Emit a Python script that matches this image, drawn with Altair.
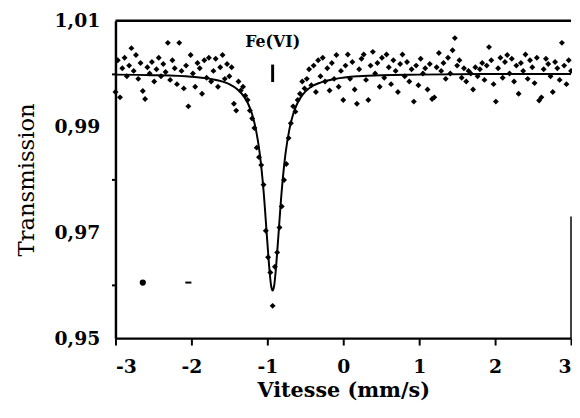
import altair as alt
import pandas as pd

# Mössbauer spectrum: velocity (mm/s) and transmission
velocity = [
    -3.00, -2.97, -2.94, -2.91, -2.88, -2.85, -2.82, -2.79, -2.76, -2.73,
    -2.70, -2.67, -2.64, -2.61, -2.58, -2.55, -2.52, -2.49, -2.46, -2.43,
    -2.40, -2.37, -2.34, -2.31, -2.28, -2.25, -2.22, -2.19, -2.16, -2.13,
    -2.10, -2.07, -2.04, -2.01, -1.98, -1.95, -1.92, -1.89, -1.86, -1.83,
    -1.80, -1.77, -1.74, -1.71, -1.68, -1.65, -1.62, -1.59, -1.56, -1.53,
    -1.50, -1.47, -1.44, -1.41, -1.38, -1.35, -1.32, -1.29, -1.26, -1.23,
    -1.20, -1.17, -1.14, -1.11, -1.08, -1.05, -1.02, -0.99, -0.96, -0.93,
    -0.90, -0.87, -0.84, -0.81, -0.78, -0.75, -0.72, -0.69, -0.66, -0.63,
    -0.60, -0.57, -0.54, -0.51, -0.48, -0.45, -0.42, -0.39, -0.36, -0.33,
    -0.30, -0.27, -0.24, -0.21, -0.18, -0.15, -0.12, -0.09, -0.06, -0.03,
    0.00, 0.03, 0.06, 0.09, 0.12, 0.15, 0.18, 0.21, 0.24, 0.27,
    0.30, 0.33, 0.36, 0.39, 0.42, 0.45, 0.48, 0.51, 0.54, 0.57,
    0.60, 0.63, 0.66, 0.69, 0.72, 0.75, 0.78, 0.81, 0.84, 0.87,
    0.90, 0.93, 0.96, 0.99, 1.02, 1.05, 1.08, 1.11, 1.14, 1.17,
    1.20, 1.23, 1.26, 1.29, 1.32, 1.35, 1.38, 1.41, 1.44, 1.47,
    1.50, 1.53, 1.56, 1.59, 1.62, 1.65, 1.68, 1.71, 1.74, 1.77,
    1.80, 1.83, 1.86, 1.89, 1.92, 1.95, 1.98, 2.01, 2.04, 2.07,
    2.10, 2.13, 2.16, 2.19, 2.22, 2.25, 2.28, 2.31, 2.34, 2.37,
    2.40, 2.43, 2.46, 2.49, 2.52, 2.55, 2.58, 2.61, 2.64, 2.67,
    2.70, 2.73, 2.76, 2.79, 2.82, 2.85, 2.88, 2.91, 2.94, 2.97,
    3.00,
]
transmission = [
    0.9965, 1.0025, 0.9955, 1.0010, 1.0030, 0.9995, 1.0015, 1.0048, 1.0005, 1.0035,
    0.9990, 1.0020, 0.9967, 0.9952, 1.0012, 1.0000, 1.0022, 0.9985, 1.0008, 1.0030,
    0.9995, 1.0018, 1.0003, 1.0058, 0.9988, 1.0025, 1.0010, 0.9980, 1.0058, 1.0005,
    0.9972, 1.0015, 0.9938, 1.0035, 1.0000, 0.9975, 1.0020, 1.0010, 0.9962, 1.0025,
    0.9992, 1.0030, 0.9985, 1.0005, 1.0028, 0.9975, 1.0012, 1.0035, 0.9990, 1.0018,
    0.9995, 1.0012, 0.9943, 0.9930, 0.9985, 0.9968, 0.9975, 0.9958, 0.9950, 0.9930,
    0.9915, 0.9897, 0.9860, 0.9842, 0.9827, 0.9790, 0.9703, 0.9653, 0.9624, 0.9561,
    0.9635, 0.9662, 0.9709, 0.9749, 0.9799, 0.9829, 0.9878, 0.9906, 0.9938, 0.9928,
    0.9950, 0.9962, 0.9985, 0.9972, 0.9990, 1.0008, 0.9978, 1.0015, 0.9965, 1.0025,
    0.9995, 1.0030, 0.9985, 1.0010, 0.9968, 1.0020, 0.9990, 1.0035, 0.9975, 1.0005,
    0.9950, 1.0015, 1.0036, 0.9990, 1.0022, 0.9970, 0.9943, 1.0008, 1.0028, 1.0036,
    0.9988, 0.9950, 1.0015, 1.0041, 1.0000, 1.0020, 0.9975, 1.0030, 0.9992, 1.0036,
    1.0012, 0.9980, 1.0025, 1.0005, 0.9965, 1.0018, 1.0036, 0.9995, 1.0022, 0.9985,
    1.0008, 0.9947, 1.0015, 0.9978, 1.0028, 1.0000, 1.0010, 0.9970, 1.0018, 0.9952,
    0.9955, 1.0012, 1.0039, 1.0005, 1.0020, 0.9990, 1.0030, 1.0000, 1.0044, 1.0067,
    1.0015, 1.0025, 0.9992, 1.0010, 0.9985, 1.0005, 1.0000, 0.9970, 1.0012, 0.9995,
    1.0008, 1.0020, 0.9988, 1.0015, 1.0050, 1.0025, 0.9980, 0.9947, 1.0010, 1.0030,
    0.9992, 1.0022, 1.0035, 1.0000, 1.0028, 0.9985, 1.0015, 0.9962, 1.0020, 1.0005,
    1.0036, 0.9990, 1.0025, 1.0012, 0.9982, 1.0030, 0.9949, 0.9955, 1.0008, 1.0028,
    1.0018, 0.9995, 0.9965, 1.0022, 1.0010, 0.9988, 1.0058, 1.0015, 0.9980, 1.0025,
    1.0005,
]

# Fitted curve
fit_velocity = [-3.0, -2.5, -2.0, -1.75, -1.5, -1.4, -1.3, -1.25, -1.2, -1.15,
                -1.1, -1.05, -1.0, -0.97, -0.95, -0.93, -0.91, -0.89, -0.86, -0.81,
                -0.76, -0.71, -0.66, -0.61, -0.56, -0.5, -0.4, -0.3, -0.1, 0.2,
                0.5, 1.0, 2.0, 3.0]
fit_transmission = [0.9998, 0.9997, 0.9994, 0.9990, 0.9980, 0.9971, 0.9955, 0.9942, 0.9923, 0.9894,
                    0.9849, 0.9779, 0.9682, 0.9626, 0.9599, 0.9590, 0.9599, 0.9626, 0.9682, 0.9779,
                    0.9849, 0.9894, 0.9923, 0.9942, 0.9955, 0.9966, 0.9977, 0.9983, 0.9990, 0.9995,
                    0.9997, 0.9998, 0.9999, 0.9999]

# Annotation: Fe(VI) line position
label_text = ["Fe(VI)"]
label_velocity = [-0.93]
label_transmission = [1.0059]
marker_velocity = [-0.93]
marker_low = [0.9984]
marker_high = [1.0017]

# Stray marks in the lower-left of the original figure
dot_velocity = [-2.64]
dot_transmission = [0.9605]
dash_from = [-2.08]
dash_to = [-2.00]
dash_transmission = [0.9605]

pts = pd.DataFrame({"v": velocity, "t": transmission})
fit = pd.DataFrame({"v": fit_velocity, "t": fit_transmission})
lab = pd.DataFrame({"v": label_velocity, "t": label_transmission, "txt": label_text})
mark = pd.DataFrame({"v": marker_velocity, "t": marker_low, "t2": marker_high})
dot = pd.DataFrame({"v": dot_velocity, "t": dot_transmission})
dash = pd.DataFrame({"v": dash_from, "v2": dash_to, "t": dash_transmission})
top = pd.DataFrame({"v": [-3.0], "v2": [3.0], "t": [1.01]})
right = pd.DataFrame({"v": [3.0], "t": [0.95], "t2": [0.973]})

FONT = "DejaVu Serif"

xscale = alt.Scale(domain=[-3, 3], nice=False)
yscale = alt.Scale(domain=[0.95, 1.01], nice=False, zero=False)

xaxis = alt.Axis(
    values=[-3, -2, -1, 0, 1, 2, 3],
    labelExpr="(datum.value < 0 ? '-' : '') + abs(datum.value)",
    title="Vitesse  (mm/s)",
    tickSize=7, labelPadding=13, titlePadding=3,
    titleFontSize=21,
)
yaxis = alt.Axis(
    values=[0.95, 0.96, 0.97, 0.98, 0.99, 1.00, 1.01],
    labelExpr="round(datum.value*100) % 2 === 1 ? replace(format(datum.value, '.2f'), '.', ',') : ''",
    tickOpacity={"condition": {"test": "round(datum.value*100) % 2 === 1", "value": 0}, "value": 1},
    title="Transmission",
    tickSize=4, labelPadding=12, titlePadding=16,
    titleFontWeight="normal", titleFontSize=23,
)

X = alt.X("v:Q", scale=xscale, axis=xaxis)
Y = alt.Y("t:Q", scale=yscale, axis=yaxis)

points = alt.Chart(pts).mark_point(
    shape="diamond", filled=True, color="black", size=36, opacity=1
).encode(x=X, y=Y)

curve = alt.Chart(fit).mark_line(
    color="black", strokeWidth=2, interpolate="monotone"
).encode(x=X, y=Y)

label = alt.Chart(lab).mark_text(
    font=FONT, fontWeight="bold", fontSize=16, color="black"
).encode(x=X, y=Y, text="txt:N")

marker = alt.Chart(mark).mark_rule(color="black", strokeWidth=3).encode(
    x=X, y=Y, y2="t2:Q"
)

dotmark = alt.Chart(dot).mark_point(
    shape="circle", filled=True, color="black", size=40, opacity=1
).encode(x=X, y=Y)

dashmark = alt.Chart(dash).mark_rule(color="black", strokeWidth=2).encode(
    x=X, x2="v2:Q", y=Y
)

topline = alt.Chart(top).mark_rule(color="black", strokeWidth=2.5).encode(
    x=X, x2="v2:Q", y=Y
)
rightline = alt.Chart(right).mark_rule(color="black", strokeWidth=1.5).encode(
    x=X, y=Y, y2="t2:Q"
)

chart = alt.layer(
    curve, points, marker, label, dotmark, dashmark, topline, rightline
).properties(
    width=462, height=322,
    autosize=alt.AutoSizeParams(type="none"),
    padding={"left": 109, "top": 10, "right": 1, "bottom": 66},
).configure_view(
    stroke=None
).configure_axis(
    grid=False,
    domainColor="black", domainWidth=2.5,
    tickColor="black", tickWidth=2,
    labelFont=FONT, labelFontWeight="bold", labelFontSize=19, labelColor="black",
    titleFont=FONT, titleColor="black", titleFontWeight="bold",
)

chart.save("out.html", embed_options={"renderer": "svg", "actions": False})
